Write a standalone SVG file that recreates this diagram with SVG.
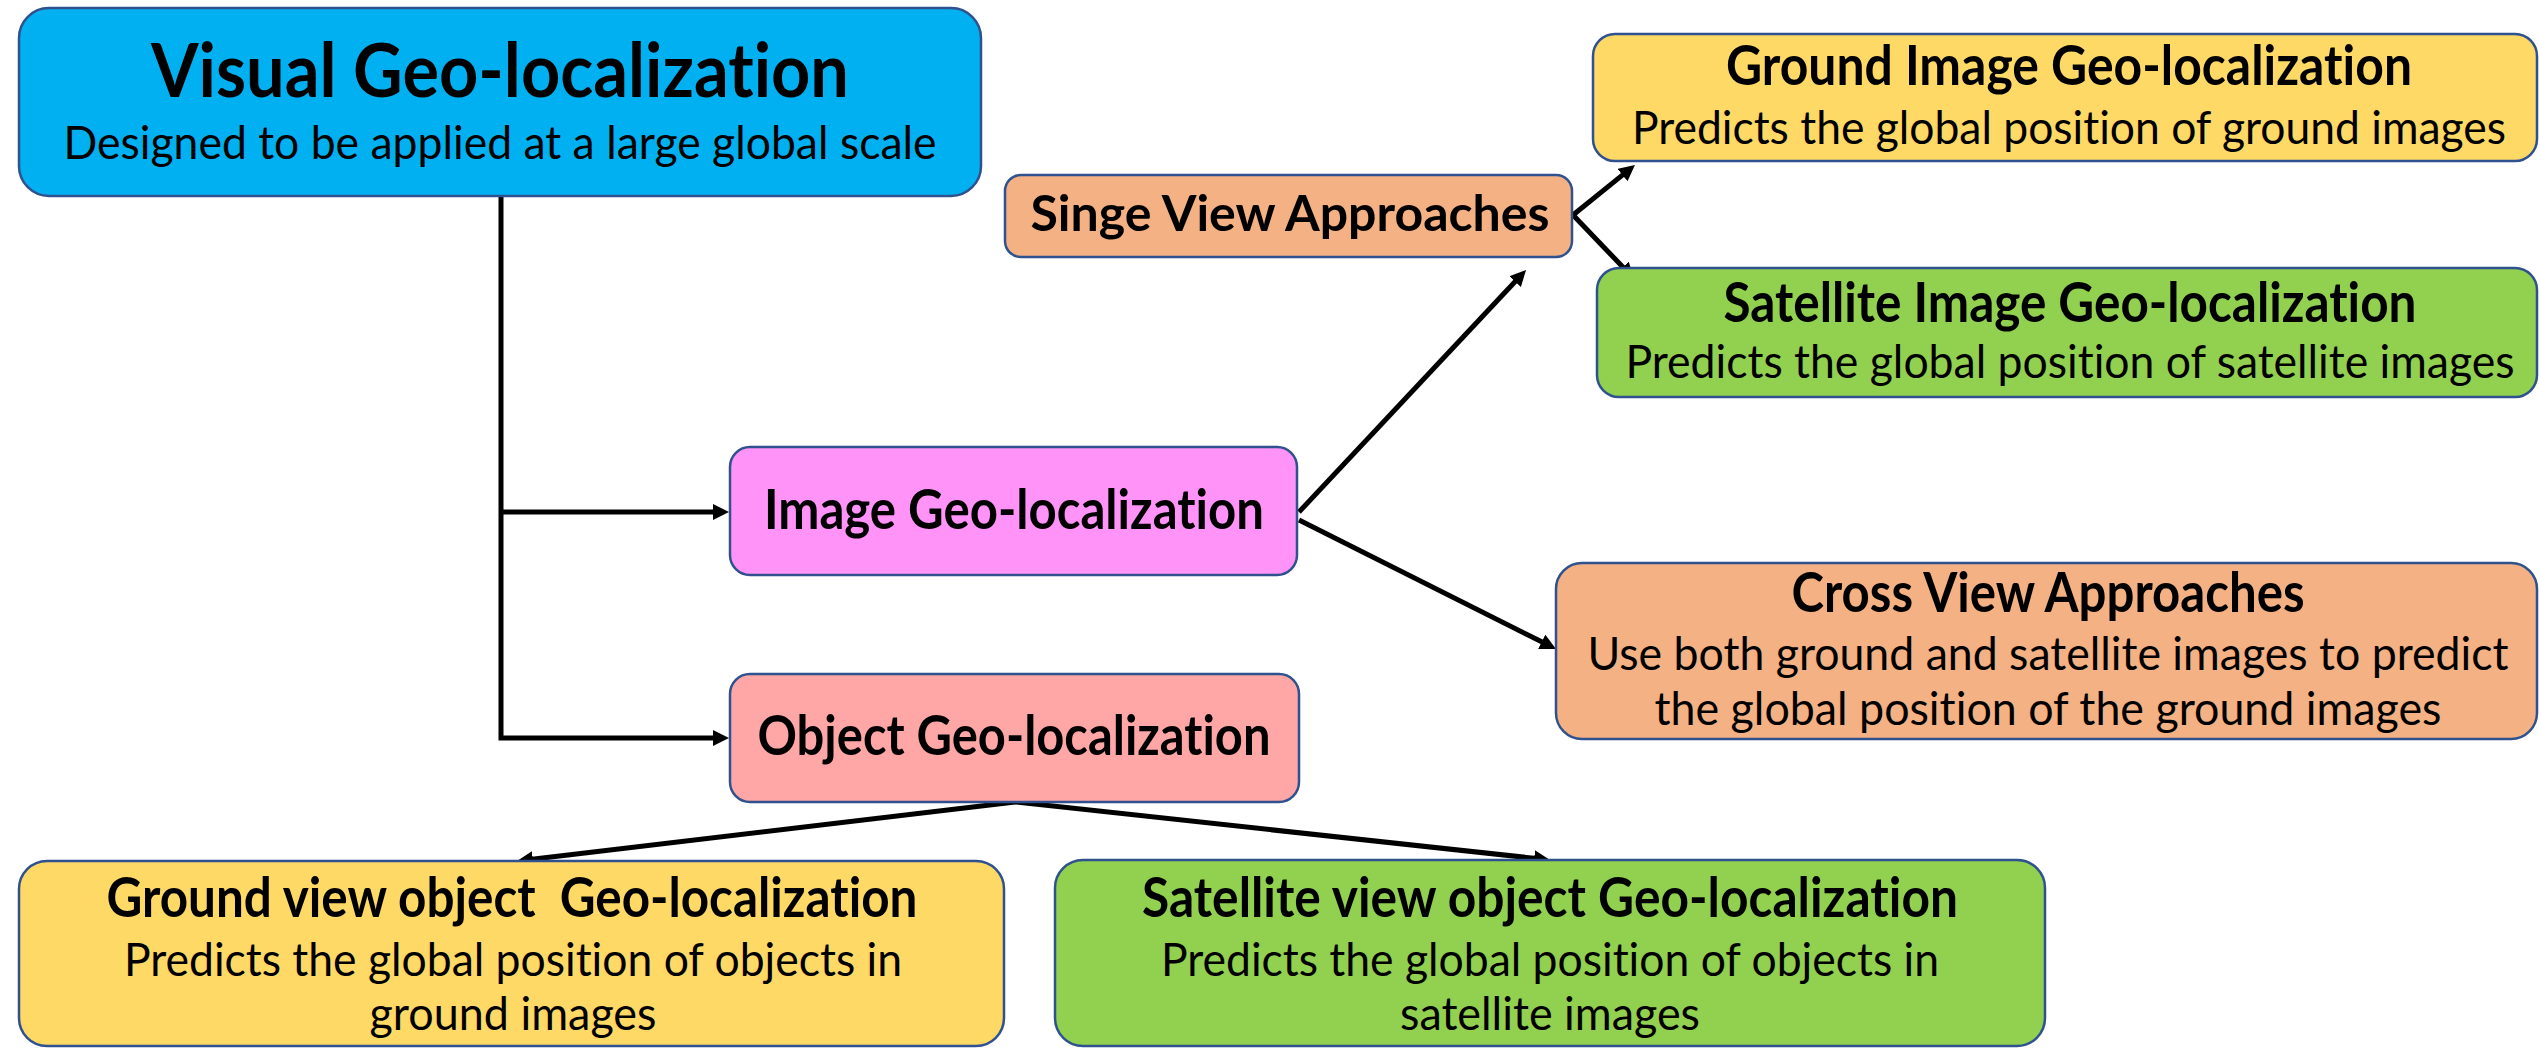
<svg xmlns="http://www.w3.org/2000/svg" width="2539" height="1049" viewBox="0 0 2539 1049">
  <style>
    .box { stroke: #2F528F; stroke-width: 2.5; }
    .blue { fill: #00B0F0; }
    .yellow { fill: #FFD966; }
    .green { fill: #92D050; }
    .orange { fill: #F4B183; }
    .pink { fill: #FF93F8; }
    .rose { fill: #FFA7A7; }
    text { font-family: Lato, "Open Sans", "Liberation Sans", sans-serif; fill: #000; text-anchor: middle; font-variant-ligatures: none; font-feature-settings: "liga" 0, "clig" 0; }
    .title { font-weight: 700; font-size: 55px; }
    .small-title { font-weight: 700; font-size: 50px; }
    .big { font-weight: 700; font-size: 75px; }
    .sub { font-weight: 400; font-size: 46px; }
    .link { fill: none; stroke: #000; stroke-width: 5; }
    .arrow { marker-end: url(#head); }
  </style>
  <defs>
    <marker id="head" markerUnits="userSpaceOnUse" markerWidth="17" markerHeight="17" refX="5" refY="8" orient="auto">
      <path d="M0,0 L16,8 L0,16 z" fill="#000"/>
    </marker>
  </defs>

  <!-- connectors -->
  <g id="connectors">
    <path class="link arrow" d="M501,196 V738 H718"/>
    <path class="link arrow" d="M501,512 H718"/>
    <path class="link arrow" d="M1299,512 L1518.5,278"/>
    <path class="link arrow" d="M1299,520 L1546.2,644.1"/>
    <path class="link arrow" d="M1573,215 L1626.4,171.9"/>
    <path class="link arrow" d="M1573,215 L1626.4,270.8"/>
    <path class="link arrow" d="M1015,802 L527.9,859.7"/>
    <path class="link arrow" d="M1015,802 L1539.1,858.8"/>
  </g>

  <!-- root -->
  <g id="visual-geo-localization">
    <rect class="box blue" x="19" y="8" width="962" height="188" rx="30"/>
    <text class="big" x="500" y="97" textLength="698" lengthAdjust="spacingAndGlyphs">Visual Geo-localization</text>
    <text class="sub" x="500" y="159" textLength="873" lengthAdjust="spacingAndGlyphs">Designed to be applied at a large global scale</text>
  </g>

  <g id="image-geo-localization">
    <rect class="box pink" x="730" y="447" width="567" height="128" rx="20"/>
    <text class="title" x="1014" y="529" textLength="500" lengthAdjust="spacingAndGlyphs">Image Geo-localization</text>
  </g>

  <g id="object-geo-localization">
    <rect class="box rose" x="730" y="674" width="569" height="128" rx="20"/>
    <text class="title" x="1014" y="755" textLength="513" lengthAdjust="spacingAndGlyphs">Object Geo-localization</text>
  </g>

  <g id="single-view-approaches">
    <rect class="box orange" x="1005" y="175" width="567" height="82" rx="16"/>
    <text class="small-title" x="1290" y="231" textLength="519" lengthAdjust="spacingAndGlyphs">Singe View Approaches</text>
  </g>

  <g id="ground-image-geo-localization">
    <rect class="box yellow" x="1593" y="34" width="944" height="127" rx="22"/>
    <text class="title" x="2069" y="85" textLength="686" lengthAdjust="spacingAndGlyphs">Ground Image Geo-localization</text>
    <text class="sub" x="2069" y="144" textLength="874" lengthAdjust="spacingAndGlyphs">Predicts the global position of ground images</text>
  </g>

  <g id="satellite-image-geo-localization">
    <rect class="box green" x="1597" y="268" width="940" height="129" rx="22"/>
    <text class="title" x="2070" y="322" textLength="693" lengthAdjust="spacingAndGlyphs">Satellite Image Geo-localization</text>
    <text class="sub" x="2070" y="378" textLength="889" lengthAdjust="spacingAndGlyphs">Predicts the global position of satellite images</text>
  </g>

  <g id="cross-view-approaches">
    <rect class="box orange" x="1556" y="563" width="981" height="176" rx="26"/>
    <text class="title" x="2048" y="612" textLength="513" lengthAdjust="spacingAndGlyphs">Cross View Approaches</text>
    <text class="sub" x="2048" y="670" textLength="921" lengthAdjust="spacingAndGlyphs">Use both ground and satellite images to predict</text>
    <text class="sub" x="2048" y="725" textLength="787" lengthAdjust="spacingAndGlyphs">the global position of the ground images</text>
  </g>

  <g id="ground-view-object-geo-localization">
    <rect class="box yellow" x="19" y="861" width="985" height="185" rx="28"/>
    <text class="title" x="512" y="917" textLength="811" lengthAdjust="spacingAndGlyphs" xml:space="preserve">Ground view object  Geo-localization</text>
    <text class="sub" x="513" y="976" textLength="778" lengthAdjust="spacingAndGlyphs">Predicts the global position of objects in</text>
    <text class="sub" x="513" y="1030" textLength="287" lengthAdjust="spacingAndGlyphs">ground images</text>
  </g>

  <g id="satellite-view-object-geo-localization">
    <rect class="box green" x="1055" y="860" width="990" height="186" rx="28"/>
    <text class="title" x="1550" y="917" textLength="816" lengthAdjust="spacingAndGlyphs">Satellite view object Geo-localization</text>
    <text class="sub" x="1550" y="976" textLength="778" lengthAdjust="spacingAndGlyphs">Predicts the global position of objects in</text>
    <text class="sub" x="1550" y="1030" textLength="300" lengthAdjust="spacingAndGlyphs">satellite images</text>
  </g>
</svg>
